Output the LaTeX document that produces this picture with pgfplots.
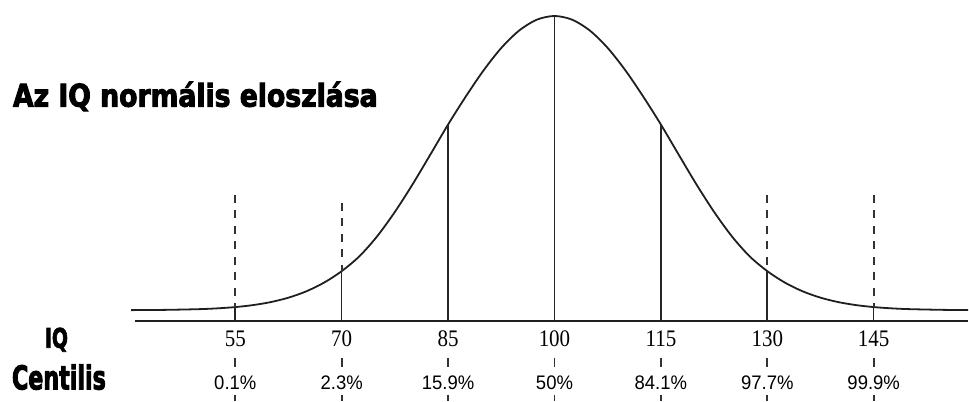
\documentclass[border=0pt]{standalone}
\usepackage{pgfplots}
\pgfplotsset{compat=1.18}
\usepackage{graphicx}
\usepackage{fontspec}
\setmainfont{Liberation Serif}
\setsansfont{Liberation Sans}
\newfontfamily\heavy[FakeBold=3]{DejaVu Sans Condensed Bold}

\newcommand\iqtxt[1]{\scalebox{1}[1.13]{\fontsize{21}{21}\selectfont #1}}
\newcommand\pcttxt[1]{\scalebox{1}[1.06]{\sffamily\fontsize{18.5}{18.5}\selectfont #1}}

\begin{document}
\begin{tikzpicture}
\begin{axis}[
  width=969pt, height=401pt, scale only axis,
  xmin=21.83, xmax=158.31, ymin=0, ymax=401,
  hide axis, clip=false,
]
\path (rel axis cs:0,0) rectangle (rel axis cs:1,1);

% bell curve of the IQ distribution
\addplot[smooth, line width=1.8pt, color=black!88] coordinates {
  (40.3,90.60) (45,90.83) (50,91.58) (52.5,92.37) (55,93.64) (57.5,95.62)
  (60,98.63) (62.5,103.06) (65,109.36) (67.5,118.05) (70,129.61) (72.5,144.49)
  (75,164.48) (77.5,188.91) (80,216.55) (82.5,246.31) (85,276.36) (87.5,304.44)
  (90,330.51) (92.5,352.99) (95,370.32) (97.5,381.26) (100,385.00)
  (102.5,381.26) (105,370.32) (107.5,352.99) (110,330.51) (112.5,304.44)
  (115,276.36) (117.5,246.31) (120,216.55) (122.5,188.91) (125,164.48)
  (127.5,144.49) (130,129.61) (132.5,118.05) (135,109.36) (137.5,103.06)
  (140,98.63) (142.5,95.62) (145,93.64) (147.5,92.37) (150,91.58)
  (155,90.83) (158.31,90.65)
};

% baseline
\addplot[line width=1.8pt, color=black!88] coordinates {(40.85,80) (158.31,80)};

% solid lines from the baseline up to the curve
\addplot[line width=1.6pt, color=black!85] coordinates {(55,80) (55,93.64)};
\addplot[line width=1.6pt, color=black!85] coordinates {(70,80) (70,129.61)};
\addplot[line width=1.6pt, color=black!85] coordinates {(85,80) (85,276.36)};
\addplot[line width=1.6pt, color=black!85] coordinates {(100,80) (100,385.00)};
\addplot[line width=1.6pt, color=black!85] coordinates {(115,80) (115,276.36)};
\addplot[line width=1.6pt, color=black!85] coordinates {(130,80) (130,129.61)};
\addplot[line width=1.6pt, color=black!85] coordinates {(145,80) (145,93.64)};

% dashed lines above the curve
\pgfplotsset{dashline/.style={line width=1.7pt, color=black!80, dash pattern=on 8pt off 7.5pt}}
\addplot[dashline] coordinates {(55,206) (55,93.64)};
\addplot[dashline] coordinates {(70,198) (70,129.61)};
\addplot[dashline] coordinates {(130,206) (130,129.61)};
\addplot[dashline] coordinates {(145,206) (145,93.64)};

% dashed marks between the label rows
\foreach \q in {55,70,85,100,115,130,145}{
  \edef\tmp{\noexpand\addplot[line width=1.7pt, color=black!80] coordinates {(\q,43) (\q,34)};
    \noexpand\addplot[line width=1.7pt, color=black!80] coordinates {(\q,6) (\q,0)};}
  \tmp
}

% IQ values
\node[inner sep=0pt] at (axis cs:55,62.3) {\iqtxt{55}};
\node[inner sep=0pt] at (axis cs:70,62.3) {\iqtxt{70}};
\node[inner sep=0pt] at (axis cs:85,62.3) {\iqtxt{85}};
\node[inner sep=0pt] at (axis cs:100,62.3) {\iqtxt{100}};
\node[inner sep=0pt] at (axis cs:115,62.3) {\iqtxt{115}};
\node[inner sep=0pt] at (axis cs:130,62.3) {\iqtxt{130}};
\node[inner sep=0pt] at (axis cs:145,62.3) {\iqtxt{145}};

% centile values
\node[inner sep=0pt] at (axis cs:55,18) {\pcttxt{0.1\%}};
\node[inner sep=0pt] at (axis cs:70,18) {\pcttxt{2.3\%}};
\node[inner sep=0pt] at (axis cs:85,18) {\pcttxt{15.9\%}};
\node[inner sep=0pt] at (axis cs:100,18) {\pcttxt{50\%}};
\node[inner sep=0pt] at (axis cs:115,18) {\pcttxt{84.1\%}};
\node[inner sep=0pt] at (axis cs:130,18) {\pcttxt{97.7\%}};
\node[inner sep=0pt] at (axis cs:145,18) {\pcttxt{99.9\%}};

% headings
\node[inner sep=0pt] at (axis cs:49.37,304.5) {\resizebox{365pt}{25pt}{\heavy Az IQ normális eloszlása}};
\node[inner sep=0pt] at (axis cs:29.79,61) {\resizebox*{23pt}{24pt}{\heavy IQ}};
\node[inner sep=0pt] at (axis cs:30.14,23.5) {\resizebox{94pt}{25pt}{\heavy Centilis}};
\end{axis}
\end{tikzpicture}
\end{document}
